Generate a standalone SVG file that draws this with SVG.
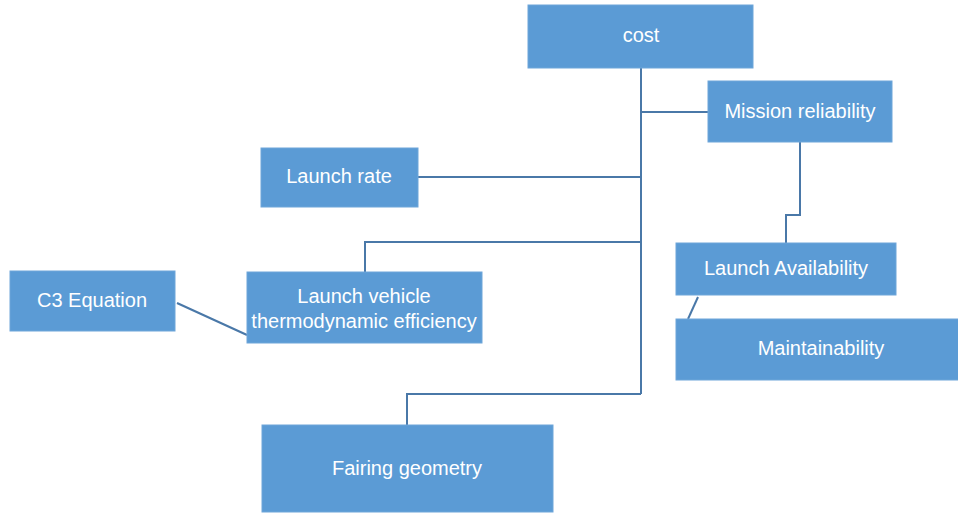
<svg xmlns="http://www.w3.org/2000/svg" width="958" height="514" viewBox="0 0 958 514">
<style>
.box{fill:#5B9BD5;stroke:#6fa6d9;stroke-width:1}
.lbl{font-family:"Liberation Sans","Open Sans",sans-serif;font-size:20px;fill:#ffffff;text-anchor:middle}
.con{fill:none;stroke:#4a78a8;stroke-width:2}
</style>
<rect width="958" height="514" fill="#ffffff"/>
<g id="connectors">
<path class="con" d="M641 68 V394"/>
<path class="con" d="M641 112 H708"/>
<path class="con" d="M418 177 H641"/>
<path class="con" d="M641 242 H365 V272"/>
<path class="con" d="M641 394 H407 V425"/>
<path class="con" d="M800 142 V215 H786 V243"/>
<path class="con" d="M177 303 L247 335"/>
<path class="con" d="M698 297 L688 319"/>
</g>
<g id="cost"><rect class="box" x="528" y="5" width="225" height="63"/><text class="lbl" x="641" y="42">cost</text></g>
<g id="mission-reliability"><rect class="box" x="708" y="81" width="184" height="61"/><text class="lbl" x="800" y="118">Mission reliability</text></g>
<g id="launch-rate"><rect class="box" x="261" y="148" width="157" height="59"/><text class="lbl" x="339" y="183">Launch rate</text></g>
<g id="launch-vehicle"><rect class="box" x="247" y="272" width="235" height="71"/><text class="lbl" x="364" y="303">Launch vehicle</text><text class="lbl" x="364" y="328">thermodynamic efficiency</text></g>
<g id="c3-equation"><rect class="box" x="10" y="271" width="165" height="60"/><text class="lbl" x="92" y="307">C3 Equation</text></g>
<g id="launch-availability"><rect class="box" x="676" y="243" width="220" height="52"/><text class="lbl" x="786" y="275">Launch Availability</text></g>
<g id="maintainability"><rect class="box" x="676" y="319" width="284" height="61"/><text class="lbl" x="821" y="355">Maintainability</text></g>
<g id="fairing-geometry"><rect class="box" x="262" y="425" width="291" height="87"/><text class="lbl" x="407" y="475">Fairing geometry</text></g>
</svg>
